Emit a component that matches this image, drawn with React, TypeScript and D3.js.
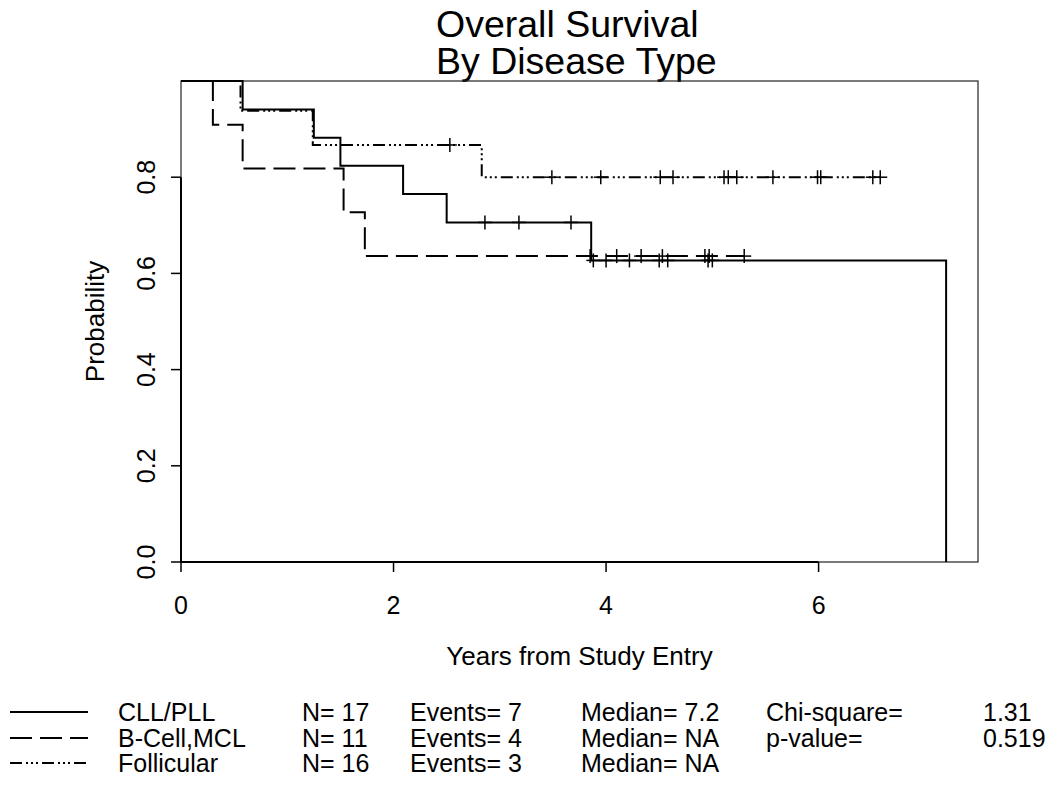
import * as d3 from 'd3';

// Kaplan-Meier estimates (years, survival after the drop)
const cllEventTimes = [0.58, 1.25, 1.5, 2.09, 2.5, 3.86, 7.2];
const cllSurvival = [0.941, 0.882, 0.824, 0.765, 0.706, 0.627, 0];
const cllCensored = [2.86, 3.18, 3.67, 3.88, 4.0, 4.22, 4.5, 4.58, 4.96, 5.0];
const cllEnd = 7.2;

const bcellEventTimes = [0.3, 0.58, 1.53, 1.73];
const bcellSurvival = [0.909, 0.818, 0.727, 0.636];
const bcellCensored = [3.85, 4.1, 4.33, 4.53, 4.93, 4.97, 5.3];
const bcellEnd = 5.3;

const follEventTimes = [0.56, 1.24, 2.83];
const follSurvival = [0.938, 0.867, 0.8];
const follCensored = [2.53, 3.49, 3.95, 4.51, 4.63, 5.11, 5.15, 5.23, 5.57, 5.99, 6.02, 6.51, 6.58];
const follEnd = 6.58;

const xTicks = [0, 2, 4, 6];
const yTicks = [0, 0.2, 0.4, 0.6, 0.8];

const legendNames = ['CLL/PLL', 'B-Cell,MCL', 'Follicular'];
const legendN = ['N= 17', 'N= 11', 'N= 16'];
const legendEvents = ['Events= 7', 'Events= 4', 'Events= 3'];
const legendMedian = ['Median= 7.2', 'Median= NA', 'Median= NA'];
const testLabels = ['Chi-square=', 'p-value='];
const testValues = ['1.31', '0.519'];

const DASHED = '22,8';
const DOTDASH = '12,4,2,3,2,3,2,4';

type Curve = {
  times: number[];
  surv: number[];
  censored: number[];
  end: number;
  dash?: string;
};

const curves: Curve[] = [
  { times: cllEventTimes, surv: cllSurvival, censored: cllCensored, end: cllEnd },
  { times: bcellEventTimes, surv: bcellSurvival, censored: bcellCensored, end: bcellEnd, dash: DASHED },
  { times: follEventTimes, surv: follSurvival, censored: follCensored, end: follEnd, dash: DOTDASH },
];

const font = '"Liberation Sans", Arial, Helvetica, sans-serif';

function survAt(c: Curve, t: number) {
  let s = 1;
  c.times.forEach((et, i) => {
    if (et <= t) s = c.surv[i];
  });
  return s;
}

export default function App() {
  const width = 1050;
  const height = 788;
  const plot = { left: 181, right: 978, top: 81, bottom: 562 };

  const x = d3.scaleLinear().domain([0, 7.5]).range([plot.left, plot.right]);
  const y = d3.scaleLinear().domain([0, 1]).range([plot.bottom, plot.top]);

  const line = d3
    .line<[number, number]>()
    .x((d) => x(d[0]))
    .y((d) => y(d[1]))
    .curve(d3.curveStepAfter);

  const paths = curves.map((c, i) => {
    const pts: [number, number][] = [[0, 1]];
    c.times.forEach((t, k) => pts.push([t, c.surv[k]]));
    const last = pts[pts.length - 1];
    if (last[0] < c.end) pts.push([c.end, last[1]]);
    return (
      <path
        key={i}
        d={line(pts) || ''}
        fill="none"
        stroke="#000"
        strokeWidth={2}
        strokeDasharray={c.dash}
      />
    );
  });

  const marks = curves.map((c, i) => (
    <g key={i} stroke="#000" strokeWidth={1.5}>
      {c.censored.map((t, k) => {
        const cx = x(t);
        const cy = y(survAt(c, t));
        return (
          <g key={k}>
            <line x1={cx - 7} x2={cx + 7} y1={cy} y2={cy} />
            <line x1={cx} x2={cx} y1={cy - 7} y2={cy + 7} />
          </g>
        );
      })}
    </g>
  ));

  const rowY = [712, 738, 763];

  return (
    <svg
      width={width}
      height={height}
      style={{ position: 'absolute', left: 0, top: 0, background: '#fff' }}
      fontFamily={font}
    >
      <rect x={0} y={0} width={width} height={height} fill="#fff" />
      {/* title */}
      <text x={436} y={37} fontSize={37.5}>Overall Survival</text>
      <text x={436} y={74} fontSize={37.5}>By Disease Type</text>

      {/* plot frame */}
      <rect
        x={plot.left}
        y={plot.top}
        width={plot.right - plot.left}
        height={plot.bottom - plot.top}
        fill="none"
        stroke="#222"
        strokeWidth={1.2}
      />

      {/* x axis */}
      <line x1={x(0)} x2={x(6)} y1={plot.bottom} y2={plot.bottom} stroke="#000" strokeWidth={2} />
      {xTicks.map((t) => (
        <g key={t}>
          <line x1={x(t)} x2={x(t)} y1={plot.bottom} y2={plot.bottom + 10} stroke="#000" strokeWidth={1.5} />
          <text x={x(t)} y={614} fontSize={25} textAnchor="middle">
            {t}
          </text>
        </g>
      ))}
      <text x={(plot.left + plot.right) / 2} y={665} fontSize={26} textAnchor="middle">
        Years from Study Entry
      </text>

      {/* y axis */}
      <line x1={plot.left} x2={plot.left} y1={y(0)} y2={y(0.8)} stroke="#000" strokeWidth={2} />
      {yTicks.map((t) => (
        <g key={t}>
          <line x1={plot.left - 10} x2={plot.left} y1={y(t)} y2={y(t)} stroke="#000" strokeWidth={1.5} />
          <text
            transform={`translate(155,${y(t)}) rotate(-90)`}
            fontSize={25}
            textAnchor="middle"
          >
            {d3.format('.1f')(t)}
          </text>
        </g>
      ))}
      <text
        transform={`translate(104,${(plot.top + plot.bottom) / 2}) rotate(-90)`}
        fontSize={26}
        textAnchor="middle"
      >
        Probability
      </text>

      {/* curves */}
      {paths}
      {marks}

      {/* legend */}
      {curves.map((c, i) => (
        <line
          key={i}
          x1={10}
          x2={88}
          y1={rowY[i]}
          y2={rowY[i]}
          stroke="#000"
          strokeWidth={2}
          strokeDasharray={c.dash}
        />
      ))}
      <g fontSize={25}>
        {legendNames.map((d, i) => (
          <text key={d} x={118} y={rowY[i] + 9}>
            {d}
          </text>
        ))}
        {legendN.map((d, i) => (
          <text key={i} x={302} y={rowY[i] + 9}>
            {d}
          </text>
        ))}
        {legendEvents.map((d, i) => (
          <text key={i} x={410} y={rowY[i] + 9}>
            {d}
          </text>
        ))}
        {legendMedian.map((d, i) => (
          <text key={i} x={581} y={rowY[i] + 9}>
            {d}
          </text>
        ))}
        {testLabels.map((d, i) => (
          <text key={d} x={766} y={rowY[i] + 9}>
            {d}
          </text>
        ))}
        {testValues.map((d, i) => (
          <text key={d} x={983} y={rowY[i] + 9}>
            {d}
          </text>
        ))}
      </g>
    </svg>
  );
}
